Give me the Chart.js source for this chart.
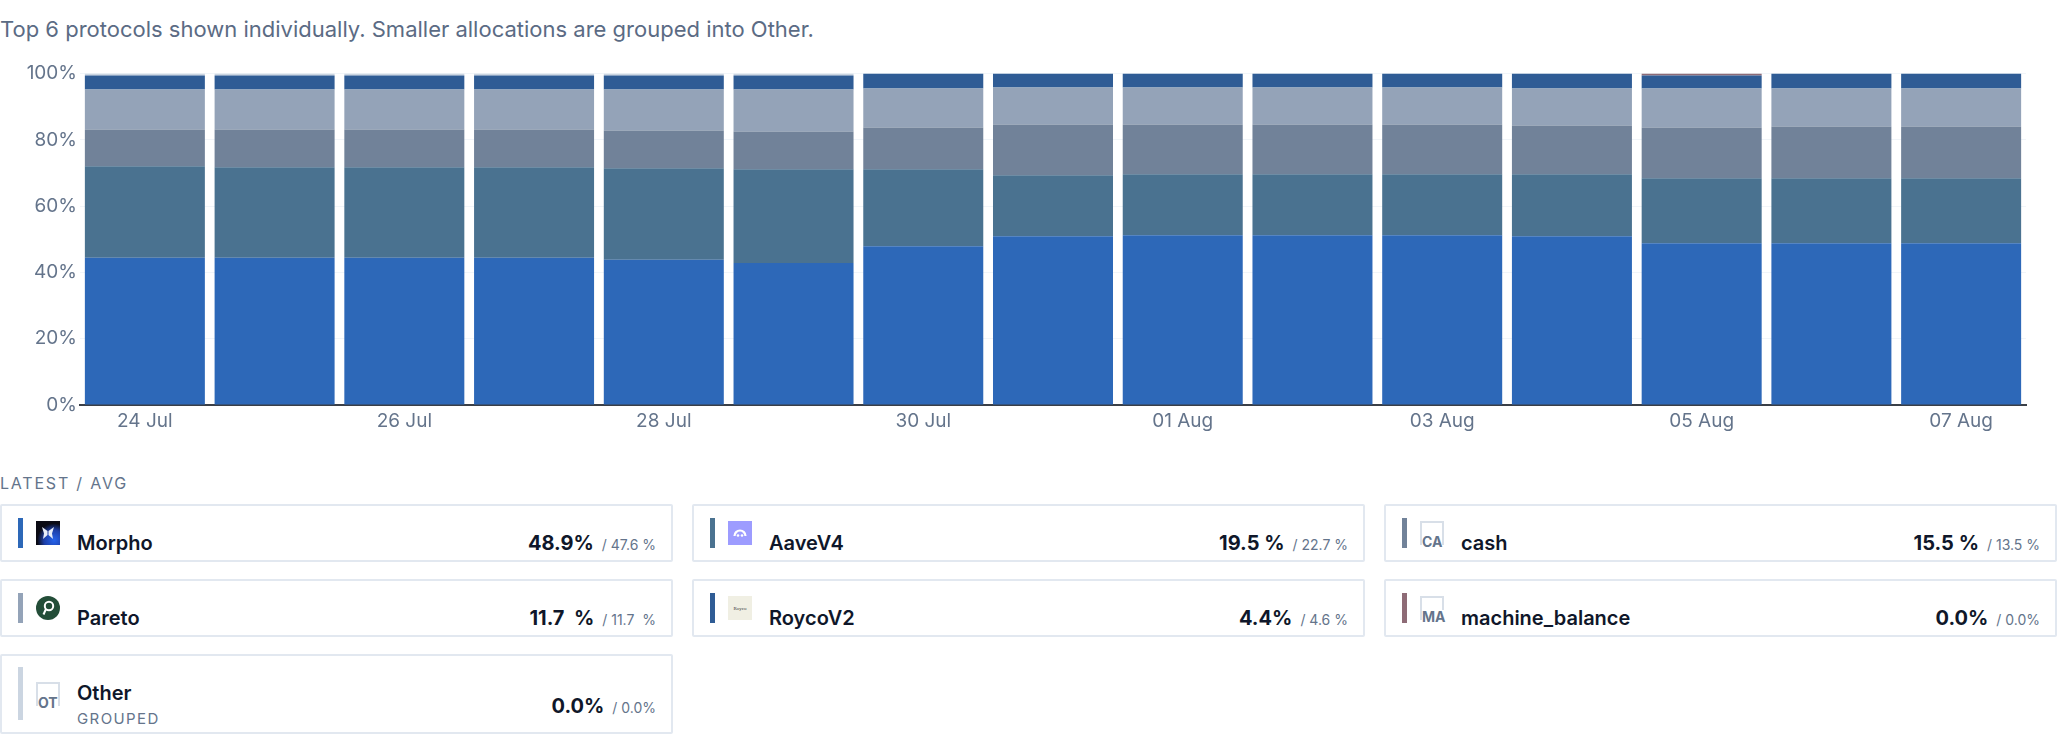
<!DOCTYPE html>
<html lang="en">
<head>
  <meta charset="UTF-8" />
  <title>Protocol allocation</title>
  <script src="https://cdn.jsdelivr.net/npm/chart.js"></script>
  <style>
    html, body { margin: 0; padding: 0; background: #fff; }
    body { width: 2058px; height: 736px; position: relative; overflow: hidden; font-family: Inter, "Noto Sans", sans-serif; }
    #subtitle { position: absolute; left: 0; top: 18px; font-size: 22px; line-height: 22px; color: #5b6b84; white-space: nowrap; }
    #chart-wrap { position: absolute; left: 0; top: 54px; width: 2058px; height: 391px; }
    #label { position: absolute; left: 0; top: 475px; font-size: 16px; line-height: 16px; letter-spacing: 1.8px; color: #64748b; }
    #cards { position: absolute; left: 0; top: 504px; width: 2057px; display: grid;
      grid-template-columns: 673px 673px 673px; grid-template-rows: 58px 58px 80px; column-gap: 19px; row-gap: 17px; }
    .card { position: relative; box-sizing: border-box; border: 2px solid #e2e8f0; border-radius: 2px; background: #fff; }
    .card .bar { position: absolute; left: 16px; top: 12px; width: 5px; height: 30px; }
    .card .icon { position: absolute; left: 34px; top: 15px; width: 24px; height: 24px; }
    .card .name { position: absolute; left: 75px; top: 27px; font-size: 20px; line-height: 20px; font-weight: 600; color: #0f172a; white-space: nowrap; }
    .card .sub { position: absolute; left: 75px; top: 55px; font-size: 15px; line-height: 16px; letter-spacing: 1.4px; color: #64748b; }
    .card .vals { position: absolute; right: 15px; top: 27px; display: flex; align-items: baseline; white-space: pre; }
    .card .latest { font-size: 20px; line-height: 20px; font-weight: 700; color: #0f172a; }
    .card .avg { font-size: 14px; line-height: 14px; color: #64748b; margin-left: 8px; }
    .card.tall .bar { top: 11px; height: 53px; }
    .card.tall .icon { top: 26px; }
    .card.tall .vals { top: 40px; }
    .ph { box-sizing: border-box; border: 2px solid #d8dfe8; border-bottom: none; }
    .ph span { position: absolute; left: 0; bottom: -4px; background: #fff; font-size: 14px; line-height: 14px; font-weight: 700; color: #64748b; }
  </style>
</head>
<body>
  <div id="subtitle">Top 6 protocols shown individually. Smaller allocations are grouped into Other.</div>
  <div id="chart-wrap"><canvas id="alloc"></canvas></div>
  <div id="label">LATEST / AVG</div>
  <div id="cards"></div>

  <script>
    // daily share of the vault (%)
    const days = ['24 Jul', '25 Jul', '26 Jul', '27 Jul', '28 Jul', '29 Jul', '30 Jul', '31 Jul',
                  '01 Aug', '02 Aug', '03 Aug', '04 Aug', '05 Aug', '06 Aug', '07 Aug'];
    const morpho         = [44.4, 44.4, 44.4, 44.4, 43.8, 42.8, 47.9, 50.9, 51.2, 51.2, 51.2, 50.9, 48.8, 48.8, 48.8];
    const aaveV4         = [27.6, 27.3, 27.3, 27.3, 27.6, 28.3, 23.2, 18.4, 18.4, 18.4, 18.4, 18.7, 19.6, 19.6, 19.6];
    const cash           = [11.1, 11.4, 11.4, 11.4, 11.4, 11.4, 12.6, 15.3, 15.0, 15.0, 15.0, 14.7, 15.3, 15.6, 15.6];
    const pareto         = [12.1, 12.1, 12.1, 12.1, 12.4, 12.7, 11.8, 11.2, 11.2, 11.2, 11.2, 11.2, 11.8, 11.5, 11.5];
    const roycoV2        = [4.2, 4.2, 4.2, 4.2, 4.2, 4.2, 4.5, 4.2, 4.2, 4.2, 4.2, 4.5, 3.9, 4.5, 4.5];
    const machineBalance = [0, 0, 0, 0, 0, 0, 0, 0, 0, 0, 0, 0, 0.6, 0, 0];
    const other          = [0.6, 0.6, 0.6, 0.6, 0.6, 0.6, 0, 0, 0, 0, 0, 0, 0, 0, 0];

    const yTicks = [0, 20, 40, 60, 80, 100];

    // legend cards
    const cardNames  = ['Morpho', 'AaveV4', 'cash', 'Pareto', 'RoycoV2', 'machine_balance', 'Other'];
    const cardLatest = ['48.9%', '19.5 %', '15.5 %', '11.7  %', '4.4%', '0.0%', '0.0%'];
    const cardAvg    = ['/ 47.6 %', '/ 22.7 %', '/ 13.5 %', '/ 11.7  %', '/ 4.6 %', '/ 0.0%', '/ 0.0%'];

    const colors = ['#2d68b8', '#4a7290', '#718299', '#94a3b8', '#2f5c95', '#8e6b76', '#cbd5e1'];
    const series = [morpho, aaveV4, cash, pareto, roycoV2, machineBalance, other];

    function iconHTML(name) {
      if (name === 'Morpho') {
        return `<svg class="icon" viewBox="0 0 24 24"><defs><radialGradient id="mg" cx="0.75" cy="0.8" r="0.7">
          <stop offset="0" stop-color="#2563eb"/><stop offset="0.6" stop-color="#1d3fa8"/><stop offset="1" stop-color="#0b0b14"/></radialGradient></defs>
          <rect width="24" height="24" fill="url(#mg)"/>
          <path d="M6 6 L11.5 10 L11.5 14 L7 18 L8 12.5 Z M18 6 L12.5 10 L12.5 14 L17 18 L16 12.5 Z" fill="#e8eef9"/></svg>`;
      }
      if (name === 'AaveV4') {
        return `<svg class="icon" viewBox="0 0 24 24"><rect width="24" height="24" fill="#9d9cff"/>
          <path d="M6.5 15 A5.5 5.5 0 0 1 17.5 15" stroke="#fff" stroke-width="2.2" fill="none"/>
          <circle cx="10" cy="14.5" r="1.3" fill="#fff"/><circle cx="14" cy="14.5" r="1.3" fill="#fff"/></svg>`;
      }
      if (name === 'Pareto') {
        return `<svg class="icon" viewBox="0 0 24 24"><circle cx="12" cy="12" r="12" fill="#234d38"/>
          <circle cx="13" cy="10" r="4.2" stroke="#fff" stroke-width="2" fill="none"/>
          <path d="M10 13 L7.5 18.5" stroke="#fff" stroke-width="2"/></svg>`;
      }
      if (name === 'RoycoV2') {
        return `<svg class="icon" viewBox="0 0 24 24"><rect width="24" height="24" fill="#f0efe3"/>
          <text x="12" y="13.5" text-anchor="middle" font-family="Liberation Serif" font-size="5" fill="#333">Royco</text></svg>`;
      }
      return `<div class="icon ph"><span>${name.slice(0, 2).toUpperCase()}</span></div>`;
    }

    const cardsEl = document.getElementById('cards');
    cardNames.forEach((n, i) => {
      const card = document.createElement('div');
      card.className = 'card' + (n === 'Other' ? ' tall' : '');
      card.innerHTML = `<div class="bar" style="background:${colors[i]}"></div>${iconHTML(n)}
        <div class="name">${n}</div>${n === 'Other' ? '<div class="sub">GROUPED</div>' : ''}
        <div class="vals"><span class="latest">${cardLatest[i]}</span><span class="avg">${cardAvg[i]}</span></div>`;
      cardsEl.appendChild(card);
    });

    const tickFont = { family: 'Inter', size: 19, lineHeight: 1 };

    new Chart(document.getElementById('alloc'), {
      type: 'bar',
      data: {
        labels: days,
        datasets: series.map((d, i) => ({
          label: cardNames[i],
          data: d,
          backgroundColor: colors[i],
          borderWidth: 0,
          categoryPercentage: 1,
          barPercentage: 0.925
        }))
      },
      options: {
        animation: false,
        responsive: true,
        maintainAspectRatio: false,
        layout: { padding: { top: 19.5, right: 32, left: 0, bottom: 0 } },
        plugins: { legend: { display: false }, tooltip: { enabled: false } },
        scales: {
          x: {
            stacked: true,
            grid: { display: false },
            border: { display: true, color: '#3a3f47', width: 2 },
            ticks: {
              color: '#64748b', font: tickFont, padding: -1, maxRotation: 0, autoSkip: false,
              callback: (v, i) => (i % 2 === 0 ? days[i] : '')
            },
            afterFit(s) { s.height = 40; }
          },
          y: {
            stacked: true,
            min: 0,
            max: 100,
            afterBuildTicks(s) { s.ticks = yTicks.map(v => ({ value: v })); },
            ticks: { color: '#64748b', font: tickFont, padding: 3, callback: v => v + '%' },
            grid: { color: '#f1f5f9', drawTicks: false },
            border: { display: false },
            afterFit(s) { s.width = 80; }
          }
        }
      }
    });
  </script>
</body>
</html>
